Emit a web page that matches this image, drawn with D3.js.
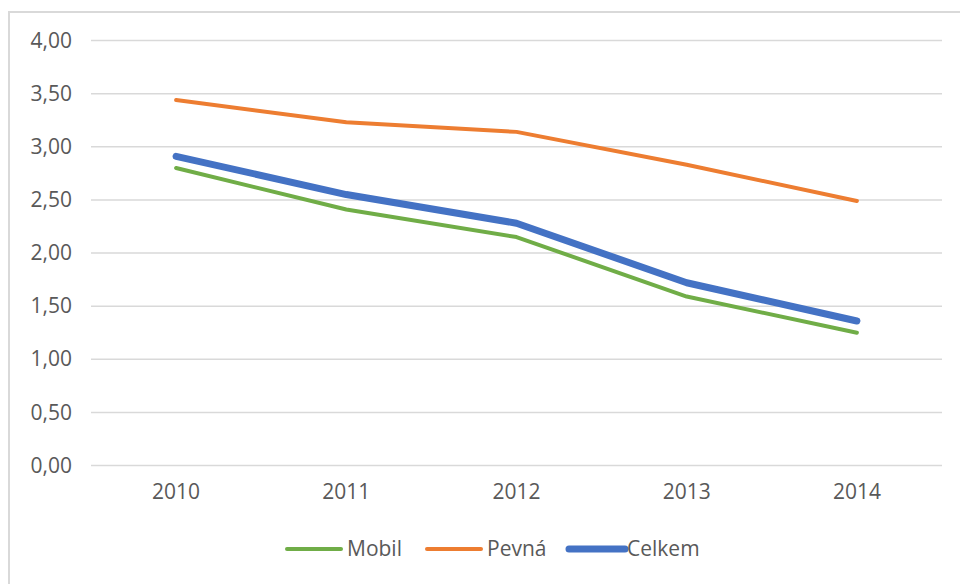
<!DOCTYPE html>
<html>
<head>
<meta charset="utf-8">
<script src="https://cdn.jsdelivr.net/npm/d3@7"></script>
<style>
  body { margin: 0; background: #fff; }
  svg text { font-family: "Open Sans", "Noto Sans", sans-serif; }
</style>
</head>
<body>
<div class="graf"></div>
<script>
// data
const roky = ["2010", "2011", "2012", "2013", "2014"];
const mobil = [2.80, 2.41, 2.15, 1.59, 1.25];
const pevna = [3.44, 3.23, 3.14, 2.83, 2.49];
const celkem = [2.91, 2.55, 2.28, 1.72, 1.36];
const yTicks = [0, 0.5, 1, 1.5, 2, 2.5, 3, 3.5, 4];

const series = [
  { name: "Mobil", values: mobil, color: "#70AD47", width: 4 },
  { name: "Pevná", values: pevna, color: "#ED7D31", width: 4 },
  { name: "Celkem", values: celkem, color: "#4472C4", width: 7 }
];

const width = 960, height = 584;

const svg = d3.select(".graf").append("svg")
  .attr("width", width)
  .attr("height", height)
  .style("display", "block");

// rámeček grafu
svg.append("rect")
  .attr("x", 9).attr("y", 12)
  .attr("width", 980).attr("height", 600)
  .attr("fill", "#fff")
  .attr("stroke", "#d9d9d9")
  .attr("stroke-width", 2);

const x = d3.scaleBand().domain(roky).range([91, 942]);
const y = d3.scaleLinear().domain([0, 4]).range([465.5, 40.5]);

// mřížka
svg.append("g")
  .selectAll("line")
  .data(yTicks)
  .join("line")
  .attr("x1", 91).attr("x2", 942)
  .attr("y1", d => y(d)).attr("y2", d => y(d))
  .attr("stroke", "#d9d9d9")
  .attr("stroke-width", 1.5);

const fmt = d => d3.format(".2f")(d).replace(".", ",");

// osa y
const yAxis = svg.append("g")
  .attr("transform", "translate(72,0)")
  .call(d3.axisLeft(y).tickValues(yTicks).tickFormat(fmt).tickSize(0).tickPadding(0))
  .attr("font-family", null).attr("font-size", null);
yAxis.select(".domain").remove();
yAxis.selectAll("text")
  .attr("fill", "#595959")
  .style("font-size", "21px");

// osa x
const xAxis = svg.append("g")
  .attr("transform", `translate(0,${y(0)})`)
  .call(d3.axisBottom(x).tickSize(0).tickPadding(19))
  .attr("font-family", null).attr("font-size", null);
xAxis.select(".domain").remove();
xAxis.selectAll("text")
  .attr("fill", "#595959")
  .style("font-size", "21px");

// čáry
const line = d3.line()
  .x((d, i) => x(roky[i]) + x.bandwidth() / 2)
  .y(d => y(d));

svg.append("g")
  .selectAll("path")
  .data(series)
  .join("path")
  .attr("d", d => line(d.values))
  .attr("fill", "none")
  .attr("stroke", d => d.color)
  .attr("stroke-width", d => d.width)
  .attr("stroke-linecap", "round")
  .attr("stroke-linejoin", "round");

// legenda
const legendX = [287, 427, 569];
const leg = svg.append("g")
  .selectAll("g")
  .data(series)
  .join("g")
  .attr("transform", (d, i) => `translate(${legendX[i]},549)`);

leg.append("line")
  .attr("x1", 0).attr("x2", (d, i) => i === 2 ? 56 : 54)
  .attr("stroke", d => d.color)
  .attr("stroke-width", d => d.width)
  .attr("stroke-linecap", "round");

leg.append("text")
  .attr("x", (d, i) => i === 2 ? 58 : 60)
  .attr("dy", "0.35em")
  .attr("fill", "#595959")
  .style("font-size", "21px")
  .text(d => d.name);
</script>
</body>
</html>
